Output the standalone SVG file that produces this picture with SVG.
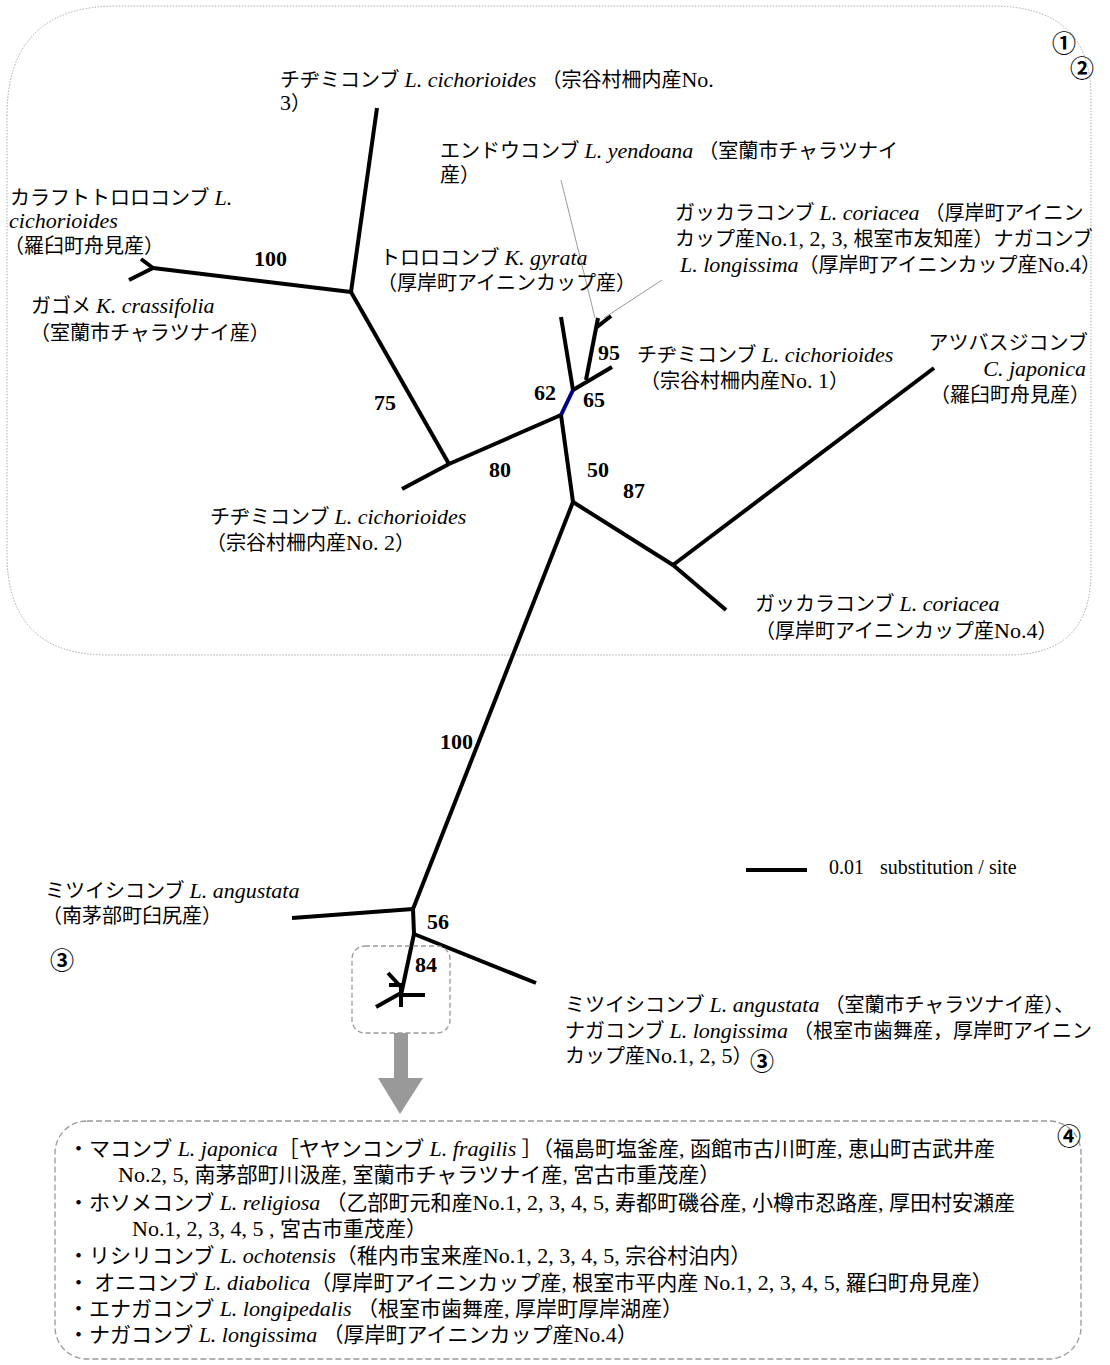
<svg xmlns="http://www.w3.org/2000/svg" width="1110" height="1365" viewBox="0 0 1110 1365">
<style>
text{font-family:"Liberation Serif","Noto Sans CJK JP",serif;font-size:20px;fill:#000}
.e{font-size:22px}
.i{font-style:italic;font-size:22px}
.bs{font-weight:bold;font-size:22px}
.br{fill:none;stroke:#000;stroke-width:4;stroke-linecap:butt}
.lead{fill:none;stroke:#999;stroke-width:1}
.circ{font-family:"Noto Sans CJK JP",sans-serif;font-size:24px;font-weight:bold}
.ls{font-size:21px}
</style>
<rect width="1110" height="1365" fill="#fff"/>
<g id="frame-top">
<path d="M7,116 Q7,6 117,6 L992,6 Q1091,6 1091,97 L1091,572 Q1091,655 1008,655 L108,655 Q7,655 7,554 Z" fill="none" stroke="#aaa" stroke-width="1" stroke-dasharray="1.5,1.5"/>
<text class="circ" x="1052" y="52">①</text>
<text class="circ" x="1070" y="77">②</text>
</g>
<g id="connectors">
<polyline class="br" points="377,108 351,292"/>
<polyline class="br" points="351,292 153,268"/>
<polyline class="br" points="153,268 141,259"/>
<polyline class="br" points="153,268 129,280"/>
<polyline class="br" points="351,292 449,464"/>
<polyline class="br" points="449,464 402,489"/>
<polyline class="br" points="449,464 561,415"/>
<polyline points="561,415 573,390" fill="none" stroke="#000080" stroke-width="4"/>
<polyline class="br" points="573,390 561,317"/>
<polyline class="br" points="573,390 612,367"/>
<polyline class="br" points="586,380 598,318"/>
<polyline class="br" points="597,327 611,316"/>
<polyline class="br" points="561,415 573,502"/>
<polyline class="br" points="573,502 673,565"/>
<polyline class="br" points="673,565 934,368"/>
<polyline class="br" points="673,565 726,610"/>
<polyline class="br" points="573,502 413,909"/>
<polyline class="br" points="413,909 292,918"/>
<polyline class="br" points="413,909 414,934"/>
<polyline class="br" points="414,934 536,983"/>
<polyline class="br" points="414,934 401,995"/>
<polyline class="br" points="401,995 425,995"/>
<polyline class="br" points="401,987 388,973"/>
<polyline class="br" points="401,985 389,985"/>
<polyline class="br" points="401,993 376,1007"/>
<polyline class="br" points="401,983 401,1007"/>
<line class="lead" x1="561" y1="180" x2="595" y2="318"/>
<line class="lead" x1="662" y1="280" x2="604" y2="318"/>
</g>
<g id="bootstrap">
<text class="bs" x="254" y="266">100</text>
<text class="bs" x="374" y="410">75</text>
<text class="bs" x="489" y="477">80</text>
<text class="bs" x="534" y="400">62</text>
<text class="bs" x="583" y="407">65</text>
<text class="bs" x="598" y="360">95</text>
<text class="bs" x="587" y="477">50</text>
<text class="bs" x="623" y="498">87</text>
<text class="bs" x="440" y="749">100</text>
<text class="bs" x="427" y="929">56</text>
<text class="bs" x="415" y="972">84</text>
</g>
<g id="n-cich3"><text x="280" y="87">チヂミコンブ <tspan class="i">L. cichorioides</tspan> （宗谷村柵内産<tspan class="e">No.</tspan></text><text x="280" y="110"><tspan class="e">3</tspan>）</text></g>
<g id="n-yendoana"><text x="440" y="158">エンドウコンブ <tspan class="i">L. yendoana</tspan> （室蘭市チャラツナイ</text><text x="440" y="182">産）</text></g>
<g id="n-karafuto"><text x="10" y="205">カラフトトロロコンブ <tspan class="i">L.</tspan></text><text class="i" x="9" y="228">cichorioides</text><text x="4" y="253">（羅臼町舟見産）</text></g>
<g id="n-gagome"><text x="31" y="313">ガゴメ <tspan class="i">K. crassifolia</tspan></text><text x="30" y="340">（室蘭市チャラツナイ産）</text></g>
<g id="n-tororo"><text x="380" y="265">トロロコンブ <tspan class="i">K. gyrata</tspan></text><text x="377" y="290">（厚岸町アイニンカップ産）</text></g>
<g id="n-gakkara1"><text x="675" y="220">ガッカラコンブ <tspan class="i">L. coriacea</tspan> （厚岸町アイニン</text><text x="675" y="246">カップ産<tspan class="e">No.1, 2, 3, </tspan>根室市友知産）ナガコンブ</text><text x="680" y="272"><tspan class="i">L. longissima</tspan>（厚岸町アイニンカップ産<tspan class="e">No.4</tspan>）</text></g>
<g id="n-cich1"><text x="637" y="362">チヂミコンブ <tspan class="i">L. cichorioides</tspan></text><text x="640" y="388">（宗谷村柵内産<tspan class="e">No. 1</tspan>）</text></g>
<g id="n-atsuba"><text x="1088" y="350" text-anchor="end">アツバスジコンブ</text><text class="i" x="1086" y="376" text-anchor="end">C. japonica</text><text x="1090" y="402" text-anchor="end">（羅臼町舟見産）</text></g>
<g id="n-cich2"><text x="210" y="524">チヂミコンブ <tspan class="i">L. cichorioides</tspan></text><text x="206" y="550">（宗谷村柵内産<tspan class="e">No. 2</tspan>）</text></g>
<g id="n-gakkara2"><text x="755" y="611">ガッカラコンブ <tspan class="i">L. coriacea</tspan></text><text x="755" y="638">（厚岸町アイニンカップ産<tspan class="e">No.4</tspan>）</text></g>
<g id="n-mitsuishi1"><text x="45" y="898">ミツイシコンブ <tspan class="i">L. angustata</tspan></text><text x="42" y="923">（南茅部町臼尻産）</text><text class="circ" x="50" y="969">③</text></g>
<g id="n-mitsuishi2"><text x="565" y="1012">ミツイシコンブ <tspan class="i">L. angustata</tspan> （室蘭市チャラツナイ産）、</text><text x="565" y="1038">ナガコンブ <tspan class="i">L. longissima</tspan> （根室市歯舞産，厚岸町アイニン</text><text x="565" y="1063">カップ産<tspan class="e">No.1, 2, 5</tspan>）</text><text class="circ" x="750" y="1070">③</text></g>
<g id="scale"><line x1="746" y1="870" x2="807" y2="870" stroke="#000" stroke-width="4"/><text x="829" y="874" font-size="19">0.01</text><text x="880" y="874" font-size="19">substitution / site</text></g>
<g id="zoom-box"><rect x="352" y="946" width="98" height="87" rx="13" fill="none" stroke="#999" stroke-width="1.3" stroke-dasharray="5,3"/></g>
<g id="arrow"><rect x="394" y="1033" width="14" height="45" fill="#999"/><polygon points="378,1078 423,1078 400,1114" fill="#999"/></g>
<g id="list-box">
<rect x="55" y="1121" width="1026" height="238" rx="32" fill="none" stroke="#999" stroke-width="1.3" stroke-dasharray="6,3"/>
<text class="circ" x="1057" y="1145">④</text>
<text class="ls" x="68" y="1156">・マコンブ <tspan class="i">L. japonica</tspan>［ヤヤンコンブ <tspan class="i">L. fragilis</tspan> ］（福島町塩釜産<tspan class="e">, </tspan>函館市古川町産<tspan class="e">, </tspan>恵山町古武井産</text>
<text class="ls" x="118" y="1182"><tspan class="e">No.2, 5, </tspan>南茅部町川汲産<tspan class="e">, </tspan>室蘭市チャラツナイ産<tspan class="e">, </tspan>宮古市重茂産）</text>
<text class="ls" x="68" y="1210">・ホソメコンブ <tspan class="i">L. religiosa</tspan> （乙部町元和産<tspan class="e">No.1, 2, 3, 4, 5, </tspan>寿都町磯谷産<tspan class="e">, </tspan>小樽市忍路産<tspan class="e">, </tspan>厚田村安瀬産</text>
<text class="ls" x="132" y="1236"><tspan class="e">No.1, 2, 3, 4, 5 , </tspan>宮古市重茂産）</text>
<text class="ls" x="68" y="1263">・リシリコンブ <tspan class="i">L. ochotensis</tspan>（稚内市宝来産<tspan class="e">No.1, 2, 3, 4, 5, </tspan>宗谷村泊内）</text>
<text class="ls" x="68" y="1290">・ オニコンブ <tspan class="i">L. diabolica</tspan>（厚岸町アイニンカップ産<tspan class="e">, </tspan>根室市平内産 <tspan class="e">No.1, 2, 3, 4, 5, </tspan>羅臼町舟見産）</text>
<text class="ls" x="68" y="1316">・エナガコンブ <tspan class="i">L. longipedalis</tspan> （根室市歯舞産<tspan class="e">, </tspan>厚岸町厚岸湖産）</text>
<text class="ls" x="68" y="1342">・ナガコンブ <tspan class="i">L. longissima</tspan> （厚岸町アイニンカップ産<tspan class="e">No.4</tspan>）</text>
</g>
</svg>
